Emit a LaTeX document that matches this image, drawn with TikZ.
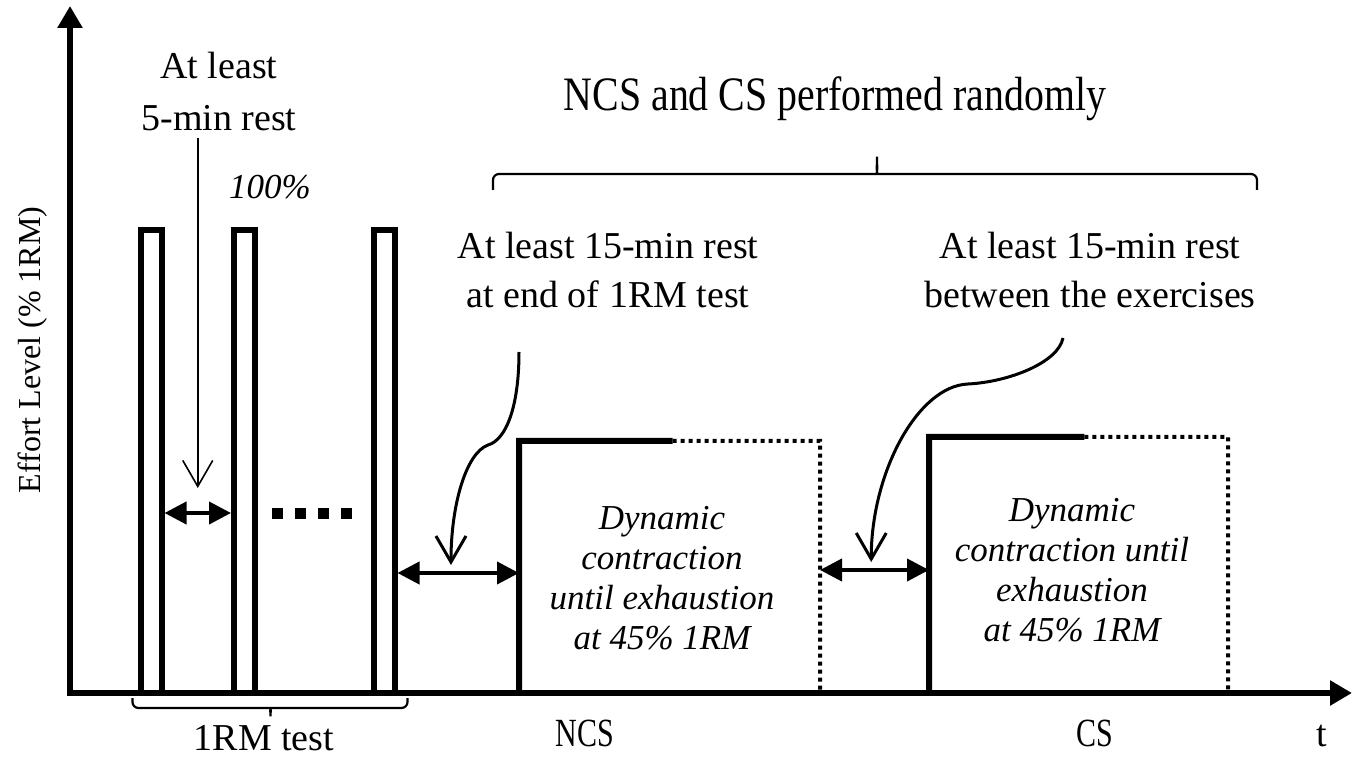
\documentclass[tikz,border=0pt]{standalone}
\usepackage{fontspec}
\setmainfont{Liberation Serif}
\newfontfamily\narrowserif[FakeStretch=0.83]{Liberation Serif}
\newfontfamily\slimserif[FakeStretch=0.75]{Liberation Serif}
\usepackage{tikz}
\usetikzlibrary{arrows.meta,calc}
\tikzstyle{bar} = [draw, line width=3pt, minimum width=10.5pt, minimum height=231.5pt, inner sep=0pt]
\tikzstyle{box} = [minimum width=150.5pt, inner sep=0pt, outer sep=0pt]
\tikzstyle{txt} = [align=center, font=\fontsize{19}{26}\selectfont]
\tikzstyle{note} = [align=center, font=\fontsize{17.5}{20}\selectfont\itshape]
\tikzstyle{wide} = [anchor=base, inner sep=0pt, font=\fontsize{24}{28}\narrowserif]
\tikzstyle{slim} = [anchor=base, inner sep=0pt, font=\fontsize{20}{24}\slimserif]
\tikzstyle{dot} = [fill, minimum size=5.5pt, inner sep=0pt]
\tikzstyle{axisline} = [line width=3pt, -{Triangle[length=11pt,width=12pt]}]
\tikzstyle{gap} = [line width=2pt, {Triangle[length=11pt,width=11pt]}-{Triangle[length=11pt,width=11pt]}]
\tikzstyle{pointer} = [line width=1.5pt, -{Straight Barb[length=13pt,width=15pt]}]
\tikzstyle{thickline} = [line width=3pt]
\tikzstyle{dotline} = [line width=2pt, dash pattern=on 2pt off 2pt]
\tikzstyle{rng} = [line width=1.1pt, rounded corners=3pt]

\begin{document}
\begin{tikzpicture}[x=0.5pt, y=-0.5pt]
	\useasboundingbox (0,0) rectangle (1356,759);
	% axes
	\coordinate (O) at (70,693);
	\coordinate (ytip) at (70,6);
	\coordinate (xtip) at (1352,693);
	\draw[axisline] ([yshift=-1.5pt]O) -- (ytip);
	\draw[axisline] ([xshift=-1.5pt]O) -- (xtip);
	\node[txt, rotate=90, font=\fontsize{16}{19}\selectfont] (ylab) at (33,350) {Effort Level (\% 1RM)};
	\node[txt] (tlab) at (1322,736) {t};

	% 1RM test
	\node[bar] (b1) at (151,461.5) {};
	\node[bar] (b2) at (244.5,461.5) {};
	\node[bar] (b3) at (384,461.5) {};
	\foreach \i in {0,...,3}
		\node[dot] (d\i) at ({277.5+23*\i},513) {};
	\coordinate (lvl) at (0,513);
	\draw[gap] (b1.east |- lvl) -- (b2.west |- lvl) coordinate[midway] (g1);
	\node[txt] (rest0) at (219,92) {At least\\5-min rest};
	\node[note] (pct) at (270,187) {100\%};
	\draw[pointer, line width=0.8pt] (rest0.south -| g1) -- ([yshift=12.5pt]g1);

	% exercises
	\node[box, minimum height=126pt] (ncs) at (669.5,567) {};
	\node[box, minimum height=128pt, minimum width=149.5pt] (cs) at (1078.5,565) {};
	\draw[thickline] (ncs.south west) -- (ncs.north west) -- ($(ncs.north west)!0.51!(ncs.north east)$) coordinate (ncsmid);
	\draw[dotline] (ncsmid) -- (ncs.north east) -- (ncs.south east);
	\draw[thickline] (cs.south west) -- (cs.north west) -- ($(cs.north west)!0.52!(cs.north east)$) coordinate (csmid);
	\draw[dotline] (csmid) -- (cs.north east) -- (cs.south east);
	\node[note] (ncstxt) at (662,578) {Dynamic\\contraction\\until exhaustion\\at 45\% 1RM};
	\node[note] (cstxt) at (1072,570) {Dynamic\\contraction until\\exhaustion\\at 45\% 1RM};

	% rests
	\coordinate (lvl2) at (0,573);
	\draw[gap] (b3.east |- lvl2) -- (ncs.west |- lvl2) coordinate[pos=0.44] (g2);
	\coordinate (lvl3) at (0,570);
	\draw[gap] (ncs.east |- lvl3) -- (cs.west |- lvl3) coordinate[pos=0.47] (g3);
	\node[txt, font=\fontsize{19}{24.5}\selectfont] (rest1) at (608,270) {At least 15-min rest\\at end of 1RM test};
	\node[txt, font=\fontsize{19}{24.5}\selectfont] (rest2) at (1090,270) {At least 15-min rest\\between the exercises};
	\coordinate (s1) at (519,352);
	\coordinate (k1) at (488,445);
	\draw[pointer] (s1) .. controls +(0,55) and +(18,-5) .. (k1) .. controls +(-22,8) and +(0,-60) .. ([yshift=4pt]g2);
	\coordinate (s2) at (1063,338);
	\coordinate (k2) at (968,384);
	\draw[pointer] (s2) .. controls +(-5,25) and +(40,-2) .. (k2) .. controls +(-50,2) and +(0,-90) .. ([yshift=4pt]g3);

	% braces
	\coordinate (r1) at (493,190);
	\coordinate (r2) at (1257,190);
	\draw[rng] (r1) -- ++(0,-16) -- ++(379,0) .. controls +(4,0) and +(0,12) .. ++(5,-21)
		.. controls +(0,12) and +(-4,0) .. ++(5,21) -| (r2);
	\node[wide] (title) at (835,111) {NCS and CS performed randomly};
	\draw[rng] ([xshift=-2.5pt,yshift=-1pt]b1.south west) -- ++(0,10) -- ++(133,0)
		.. controls +(4,0) and +(0,-7) .. ++(5,12) .. controls +(0,-7) and +(-4,0) .. ++(5,-12)
		-| ([xshift=5pt,yshift=-1pt]b3.south east);
	\node[txt] (rmlab) at (264,738) {1RM test};
	\node[slim] (ncslab) at (585,746) {NCS};
	\node[slim] (cslab) at (1095,746) {CS};
\end{tikzpicture}
\end{document}
